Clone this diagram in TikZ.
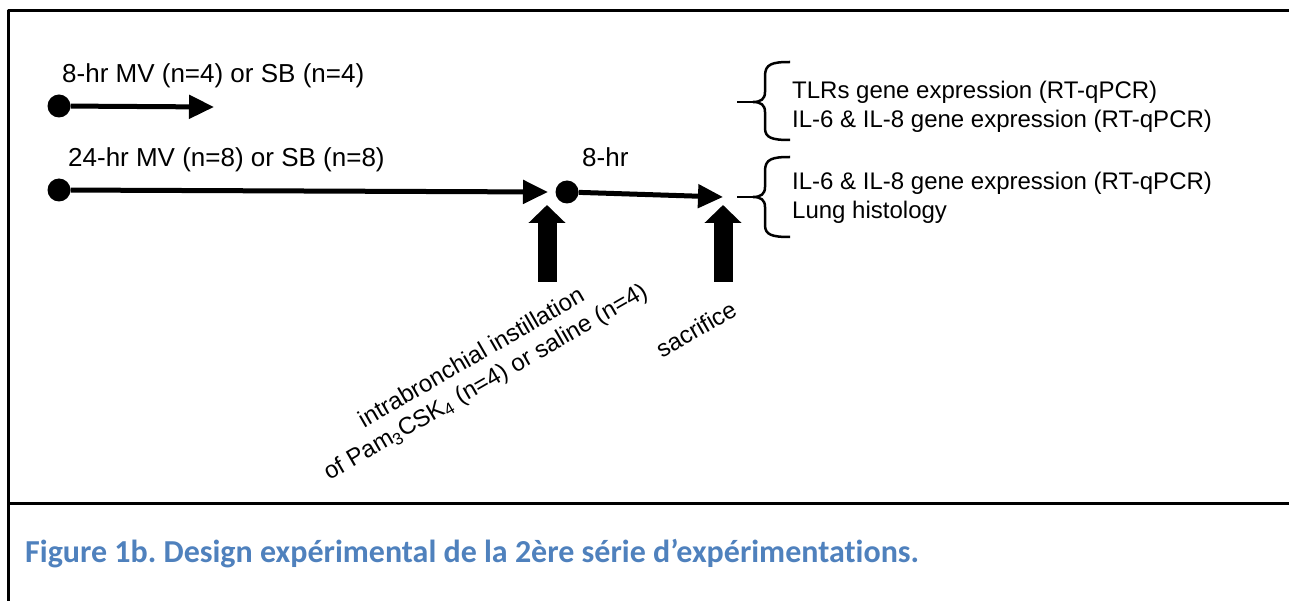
\documentclass[tikz,border=0pt]{standalone}
\usepackage{fontspec}
\setmainfont{Liberation Sans}
\newfontfamily\captionfont[Ligatures=NoCommon]{Carlito}
\usetikzlibrary{arrows.meta}
\definecolor{captionblue}{RGB}{79,129,189}
\frenchspacing

\begin{document}
\begin{tikzpicture}[x=1pt,y=-1pt,line join=bevel,
  timedot/.style={circle,fill=black,inner sep=0pt,minimum size=23pt},
  timeline/.style={line width=5pt,-{Triangle[length=25pt,width=23pt]}},
  blockarrow/.style={line width=19pt,-{Triangle[length=18pt,width=36pt]}},
  bracket/.style={line width=2.5pt},
  mvtext/.style={inner sep=0pt,font=\fontsize{26}{31}\selectfont},
  readout/.style={inner sep=0pt,align=left,font=\fontsize{24}{29}\selectfont},
  tilted/.style={inner sep=0pt,align=center,rotate=30,font=\fontsize{24}{28}\selectfont},
]
\useasboundingbox (0,0) rectangle (1289,601);
%% frame
\draw[line width=3pt] (1289,11) -- (8,11) -- (8,601);
\draw[line width=3pt] (8,503) -- (1289,503);
%% time lines
\node (dot_8hr) at (59,106) [timedot] {};
\node (dot_24hr) at (59,190) [timedot] {};
\node (dot_instil) at (567,192) [timedot] {};
\coordinate (end_8hr) at (214,107);
\coordinate (end_24hr) at (548,192);
\coordinate (end_post) at (723,197);
\node (txt_8hr) at (62,83) [mvtext,anchor=base west] {8-hr MV (n=4) or SB (n=4)};
\node (txt_24hr) at (68,167) [mvtext,anchor=base west] {24-hr MV (n=8) or SB (n=8)};
\node (txt_post) at (582,167) [mvtext,anchor=base west] {8-hr};
\draw [timeline] (dot_8hr) -- (end_8hr);
\draw [timeline] (dot_24hr) -- (end_24hr);
\draw [timeline] (dot_instil) -- (end_post);
%% interventions
\coordinate (instil_foot) at (547,282);
\coordinate (instil_tip) at (547,205);
\coordinate (sacr_foot) at (723,282);
\coordinate (sacr_tip) at (723,205);
\draw [blockarrow] (instil_foot) -- (instil_tip);
\draw [blockarrow] (sacr_foot) -- (sacr_tip);
\node (txt_instil) at (479,371) [tilted] {intrabronchial instillation\\of Pam\textsubscript{3}CSK\textsubscript{4} (n=4) or saline (n=4)};
\node (txt_sacr) at (696,329) [tilted] {sacrifice};
%% read-outs
\coordinate (brace_8hr) at (737,102);
\coordinate (brace_post) at (737,197);
\draw [bracket] (brace_8hr) -- (753,102);
\draw [bracket] (790,62) .. controls (772,62) and (765,64) .. (765,76) -- (765,92) .. controls (765,99) and (761,102) .. (753,102) .. controls (761,102) and (765,105) .. (765,112) -- (765,128) .. controls (765,138) and (772,140) .. (790,140);
\draw [bracket] (brace_post) -- (753,197);
\draw [bracket] (790,157) .. controls (772,157) and (765,159) .. (765,171) -- (765,187) .. controls (765,194) and (761,197) .. (753,197) .. controls (761,197) and (765,200) .. (765,207) -- (765,225) .. controls (765,235) and (772,237) .. (790,237);
\node (out_8hr) at (792,107) [readout,anchor=west] {TLRs gene expression (RT-qPCR)\\IL-6 \& IL-8 gene expression (RT-qPCR)};
\node (out_post) at (792,198) [readout,anchor=west] {IL-6 \& IL-8 gene expression (RT-qPCR)\\Lung histology};
%% caption
\node (caption) at (25,562) [anchor=base west,inner sep=0pt,text=captionblue,font=\captionfont\bfseries\fontsize{32}{37}\selectfont] {Figure 1b. Design expérimental de la 2ère série d’expérimentations.};
%
\end{tikzpicture}
\end{document}
